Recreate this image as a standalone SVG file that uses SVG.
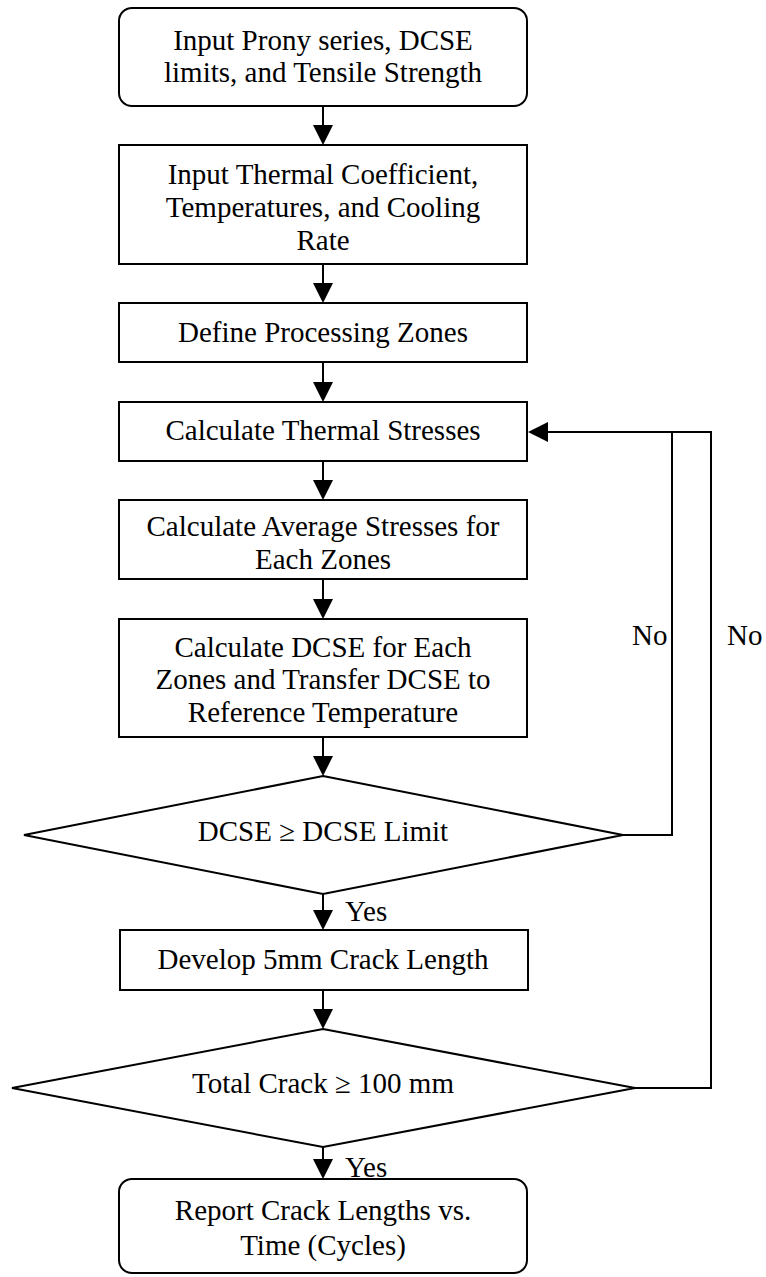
<svg xmlns="http://www.w3.org/2000/svg" width="766" height="1277" viewBox="0 0 766 1277">
<style>
.n{fill:#fff;stroke:#000;stroke-width:2}
.t{font-family:"Liberation Serif","Times New Roman",serif;font-size:29px;fill:#000;text-anchor:middle}
.l{font-family:"Liberation Serif","Times New Roman",serif;font-size:29px;fill:#000}
.c{fill:none;stroke:#000;stroke-width:2}
</style>
<defs>
<marker id="ah" markerUnits="userSpaceOnUse" markerWidth="20" markerHeight="20" refX="10" refY="10" orient="auto">
<path d="M0,0 L20,10 L0,20 z" fill="#000"/>
</marker>
</defs>
<rect width="766" height="1277" fill="#fff"/>
<g id="connectors">
<line class="c" x1="323" y1="107" x2="323" y2="135" marker-end="url(#ah)"/>
<line class="c" x1="323" y1="264" x2="323" y2="293" marker-end="url(#ah)"/>
<line class="c" x1="323" y1="362" x2="323" y2="392" marker-end="url(#ah)"/>
<line class="c" x1="323" y1="461" x2="323" y2="490" marker-end="url(#ah)"/>
<line class="c" x1="323" y1="579" x2="323" y2="609" marker-end="url(#ah)"/>
<line class="c" x1="323" y1="737" x2="323" y2="766" marker-end="url(#ah)"/>
<line class="c" x1="323" y1="894" x2="323" y2="920" marker-end="url(#ah)"/>
<line class="c" x1="323" y1="990" x2="323" y2="1019" marker-end="url(#ah)"/>
<line class="c" x1="323" y1="1147" x2="323" y2="1169" marker-end="url(#ah)"/>
<polyline class="c" points="623,835 672,835 672,432 538,432" marker-end="url(#ah)"/>
<polyline class="c" points="635,1088 711,1088 711,432 672,432"/>
<text class="l" x="345" y="921">Yes</text>
<text class="l" x="345" y="1177">Yes</text>
<text class="l" x="632" y="645">No</text>
<text class="l" x="727" y="645">No</text>
</g>
<g id="n1">
<rect class="n" x="119" y="8" width="408" height="98" rx="13"/>
<text class="t" x="323" y="50">Input Prony series, DCSE</text>
<text class="t" x="323" y="82">limits, and Tensile Strength</text>
</g>
<g id="n2">
<rect class="n" x="119" y="145" width="408" height="119"/>
<text class="t" x="323" y="184">Input Thermal Coefficient,</text>
<text class="t" x="323" y="217">Temperatures, and Cooling</text>
<text class="t" x="323" y="250">Rate</text>
</g>
<g id="n3">
<rect class="n" x="119" y="303" width="408" height="59"/>
<text class="t" x="323" y="342">Define Processing Zones</text>
</g>
<g id="n4">
<rect class="n" x="119" y="402" width="408" height="59"/>
<text class="t" x="323" y="440">Calculate Thermal Stresses</text>
</g>
<g id="n5">
<rect class="n" x="119" y="500" width="408" height="79"/>
<text class="t" x="323" y="536">Calculate Average Stresses for</text>
<text class="t" x="323" y="569">Each Zones</text>
</g>
<g id="n6">
<rect class="n" x="119" y="619" width="408" height="118"/>
<text class="t" x="323" y="657">Calculate DCSE for Each</text>
<text class="t" x="323" y="689">Zones and Transfer DCSE to</text>
<text class="t" x="323" y="722">Reference Temperature</text>
</g>
<g id="d1">
<polygon class="n" points="323,776 623,835 323,894 24,835"/>
<text class="t" x="323" y="841">DCSE ≥ DCSE Limit</text>
</g>
<g id="n7">
<rect class="n" x="120" y="930" width="408" height="60"/>
<text class="t" x="323" y="969">Develop 5mm Crack Length</text>
</g>
<g id="d2">
<polygon class="n" points="323,1029 635,1088 323,1147 12,1088"/>
<text class="t" x="323" y="1093">Total Crack ≥ 100 mm</text>
</g>
<g id="n8">
<rect class="n" x="119" y="1179" width="408" height="94" rx="13"/>
<text class="t" x="323" y="1220">Report Crack Lengths vs.</text>
<text class="t" x="323" y="1255">Time (Cycles)</text>
</g>
</svg>
